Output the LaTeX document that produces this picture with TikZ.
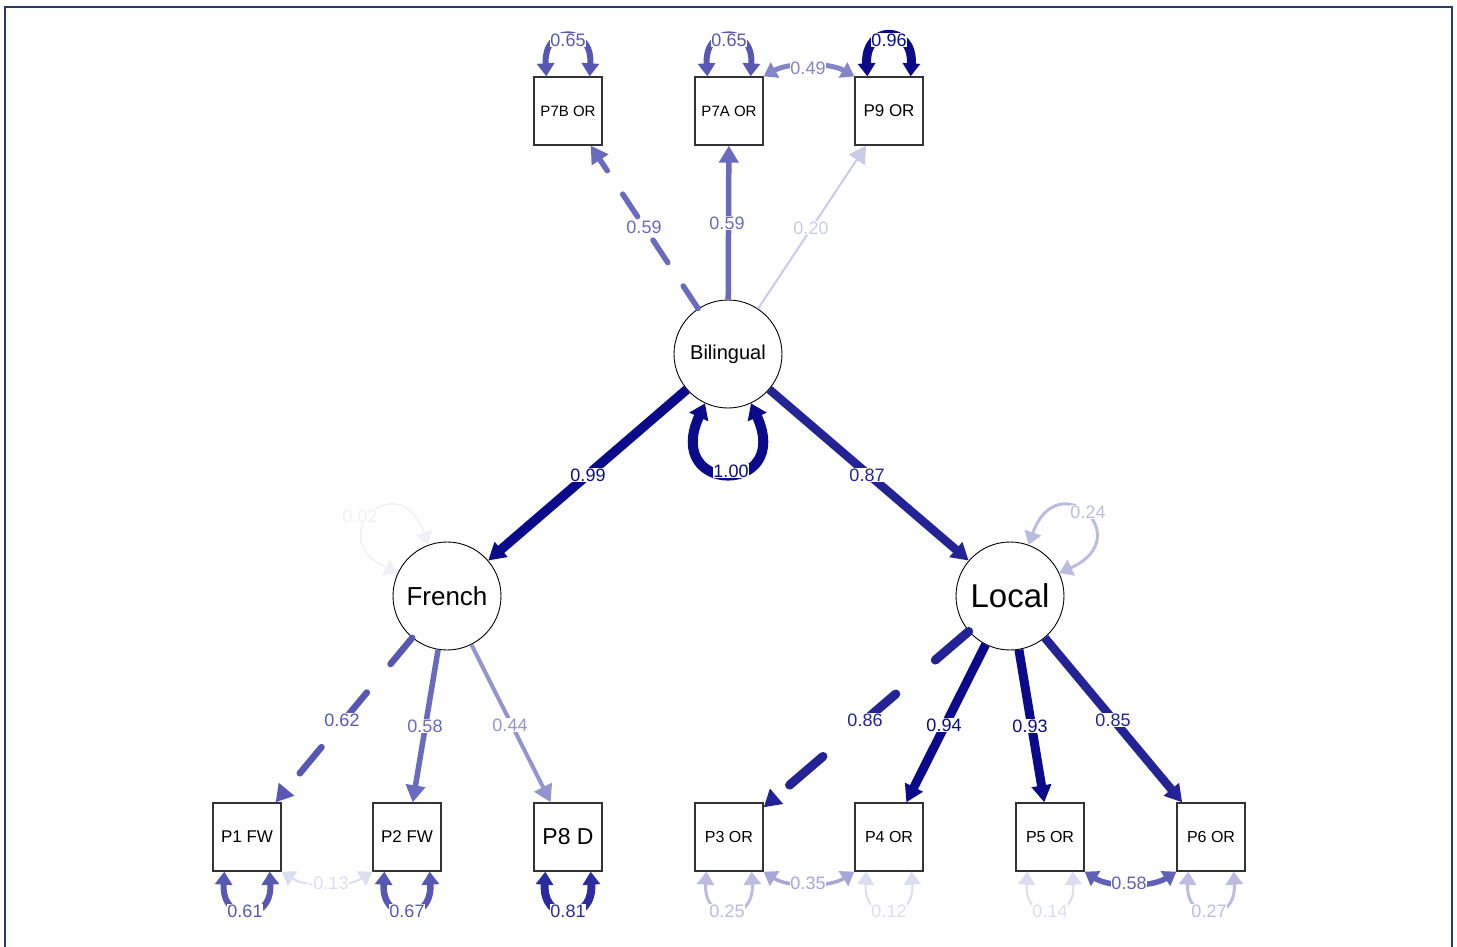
\documentclass[tikz,border=0pt]{standalone}
\usepackage{fontspec}
\setmainfont{Liberation Sans}
\usetikzlibrary{arrows.meta}
\definecolor{cA}{HTML}{0A0A8A}
\definecolor{cB}{HTML}{232396}
\definecolor{cC}{HTML}{2C2C9E}
\definecolor{cD}{HTML}{5858B4}
\definecolor{cE}{HTML}{6A6ABF}
\definecolor{cF}{HTML}{8484C8}
\definecolor{cG}{HTML}{9494D0}
\definecolor{cH}{HTML}{A6A6D8}
\definecolor{cI}{HTML}{BCBCE2}
\definecolor{cJ}{HTML}{CBCBE8}
\definecolor{cK}{HTML}{DDDDF0}
\definecolor{cL}{HTML}{F0F0F6}
\definecolor{cM}{HTML}{6060B8}
\definecolor{frame}{HTML}{2B3A6B}
\tikzset{
  box/.style={draw=black!80, line width=1.3pt, fill=white, minimum width=68pt, minimum height=68pt, inner sep=0pt},
  lat/.style={draw=black, line width=0.9pt, circle, fill=white, minimum size=108pt, inner sep=0pt},
  lab/.style={fill=white, inner sep=0.6pt, font=\fontsize{18}{18}\selectfont},
  onearr/.style={-{Triangle[length=17pt,width=19pt]}},
  twoarr/.style={{Triangle[length=13pt,width=17pt]}-{Triangle[length=13pt,width=17pt]}},
  bigtwo/.style={{Triangle[length=15pt,width=20pt]}-{Triangle[length=15pt,width=20pt]}},
  fs/.style={font=\fontsize{#1}{#1}\selectfont}
}
\begin{document}
\begin{tikzpicture}[x=1pt,y=-1pt]
\useasboundingbox (0,0) rectangle (1457,947);
\draw[frame, line width=2pt] (5,947) -- (5,7) -- (1452,7) -- (1452,947);

% nodes
\node[box, fs=15] (P7B) at (568,111) {P7B OR};
\node[box, fs=15] (P7A) at (729,111) {P7A OR};
\node[box, fs=17] (P9) at (889,111) {P9 OR};
\node[lat, fs=20] (Bil) at (728,354) {Bilingual};
\node[lat, fs=26] (Fr) at (447,596) {French};
\node[lat, fs=33] (Lo) at (1010,596) {Local};
\node[box, fs=17] (P1) at (247,837) {P1 FW};
\node[box, fs=17] (P2) at (407,837) {P2 FW};
\node[box, fs=23] (P8) at (568,837) {P8 D};
\node[box, fs=16] (P3) at (729,837) {P3 OR};
\node[box, fs=16] (P4) at (889,837) {P4 OR};
\node[box, fs=16] (P5) at (1050,837) {P5 OR};
\node[box, fs=16] (P6) at (1211,837) {P6 OR};

% loadings
\draw[onearr, cE, line width=5.5pt, line cap=round, dash pattern=on 27pt off 28pt] (Bil) -- (P7B);
\draw[onearr, cE, line width=5.5pt] (Bil) -- (P7A);
\draw[onearr, cJ, line width=2pt] (Bil) -- (P9);
\draw[onearr, cA, line width=9.5pt] (Bil) -- (Fr);
\draw[onearr, cB, line width=8.5pt] (Bil) -- (Lo);
\draw[onearr, cD, line width=6.5pt, line cap=round, dash pattern=on 34pt off 37pt] (Fr) -- (P1);
\draw[onearr, cE, line width=5.5pt] (Fr) -- (P2);
\draw[onearr, cG, line width=4pt] (Fr) -- (P8);
\draw[onearr, cB, line width=9pt, line cap=round, dash pattern=on 44pt off 52pt] (Lo) -- (P3);
\draw[onearr, cA, line width=9pt] (Lo) -- (P4);
\draw[onearr, cA, line width=9pt] (Lo) -- (P5);
\draw[onearr, cB, line width=8.5pt] (Lo) -- (P6);

% latent variances
\draw[bigtwo, cA, line width=10pt] (Bil.-115) .. controls +(-42,92) and +(42,92) .. (Bil.-65);
\draw[twoarr, cL, line width=1.5pt] (Fr.155) .. controls +(-78,-36) and +(-29,-82) .. (Fr.110);
\draw[twoarr, cI, line width=3pt] (Lo.70) .. controls +(29,-82) and +(80,-36) .. (Lo.25);

% residual variances top
\draw[twoarr, cD, line width=6pt] ([xshift=13pt]P7B.north west) .. controls +(-3,-52) and +(3,-52) .. ([xshift=-13pt]P7B.north east);
\draw[twoarr, cD, line width=6pt] ([xshift=13pt]P7A.north west) .. controls +(-3,-52) and +(3,-52) .. ([xshift=-13pt]P7A.north east);
\draw[twoarr, cA, line width=9pt] ([xshift=13pt]P9.north west) .. controls +(-3,-52) and +(3,-52) .. ([xshift=-13pt]P9.north east);
% residual variances bottom
\draw[twoarr, cD, line width=6pt] ([xshift=12pt]P1.south west) .. controls +(-3,52) and +(3,52) .. ([xshift=-12pt]P1.south east);
\draw[twoarr, cD, line width=6.5pt] ([xshift=12pt]P2.south west) .. controls +(-3,52) and +(3,52) .. ([xshift=-12pt]P2.south east);
\draw[twoarr, cC, line width=8pt] ([xshift=12pt]P8.south west) .. controls +(-3,52) and +(3,52) .. ([xshift=-12pt]P8.south east);
\draw[twoarr, cI, line width=3pt] ([xshift=12pt]P3.south west) .. controls +(-3,52) and +(3,52) .. ([xshift=-12pt]P3.south east);
\draw[twoarr, cK, line width=2pt] ([xshift=12pt]P4.south west) .. controls +(-3,52) and +(3,52) .. ([xshift=-12pt]P4.south east);
\draw[twoarr, cK, line width=2pt] ([xshift=12pt]P5.south west) .. controls +(-3,52) and +(3,52) .. ([xshift=-12pt]P5.south east);
\draw[twoarr, cI, line width=3pt] ([xshift=12pt]P6.south west) .. controls +(-3,52) and +(3,52) .. ([xshift=-12pt]P6.south east);

% covariances
\draw[twoarr, cF, line width=5pt] (P7A.north east) .. controls +(25,-14) and +(-25,-14) .. (P9.north west);
\draw[twoarr, cK, line width=2pt] (P1.south east) .. controls +(25,16) and +(-25,16) .. (P2.south west);
\draw[twoarr, cH, line width=3.5pt] (P3.south east) .. controls +(25,16) and +(-25,16) .. (P4.south west);
\draw[twoarr, cM, line width=5.5pt] (P5.south east) .. controls +(25,16) and +(-25,16) .. (P6.south west);

% labels
\node[lab, text=cD] (v7b) at (568,40) {0.65};
\node[lab, text=cD] (v7a) at (729,40) {0.65};
\node[lab, text=cA] (v9) at (889,40) {0.96};
\node[lab, text=cF] (c79) at (808,68) {0.49};
\node[lab, text=cE] (l7b) at (644,227) {0.59};
\node[lab, text=cE] (l7a) at (727,223) {0.59};
\node[lab, text=cJ] (l9) at (811,228) {0.20};
\node[lab, text=cA] (lfr) at (588,475) {0.99};
\node[lab, text=cB] (llo) at (867,475) {0.87};
\node[lab, text=cA] (vbil) at (731,471) {1.00};
\node[lab, text=cL] (vfr) at (360,516) {0.02};
\node[lab, text=cI] (vlo) at (1088,512) {0.24};
\node[lab, text=cD] (l1) at (342,720) {0.62};
\node[lab, text=cE] (l2) at (425,726) {0.58};
\node[lab, text=cG] (l8) at (510,725) {0.44};
\node[lab, text=cB] (l3) at (865,720) {0.86};
\node[lab, text=cA] (l4) at (944,725) {0.94};
\node[lab, text=cA] (l5) at (1030,726) {0.93};
\node[lab, text=cB] (l6) at (1113,720) {0.85};
\node[lab, text=cD] (v1) at (245,911) {0.61};
\node[lab, text=cK] (c12) at (328,883) {-0.13};
\node[lab, text=cD] (v2) at (407,911) {0.67};
\node[lab, text=cC] (v8) at (568,911) {0.81};
\node[lab, text=cI] (v3) at (727,911) {0.25};
\node[lab, text=cH] (c34) at (808,883) {0.35};
\node[lab, text=cK] (v4) at (889,911) {0.12};
\node[lab, text=cK] (v5) at (1050,911) {0.14};
\node[lab, text=cM] (c56) at (1129,883) {0.58};
\node[lab, text=cI] (v6) at (1209,911) {0.27};
\end{tikzpicture}
\end{document}
